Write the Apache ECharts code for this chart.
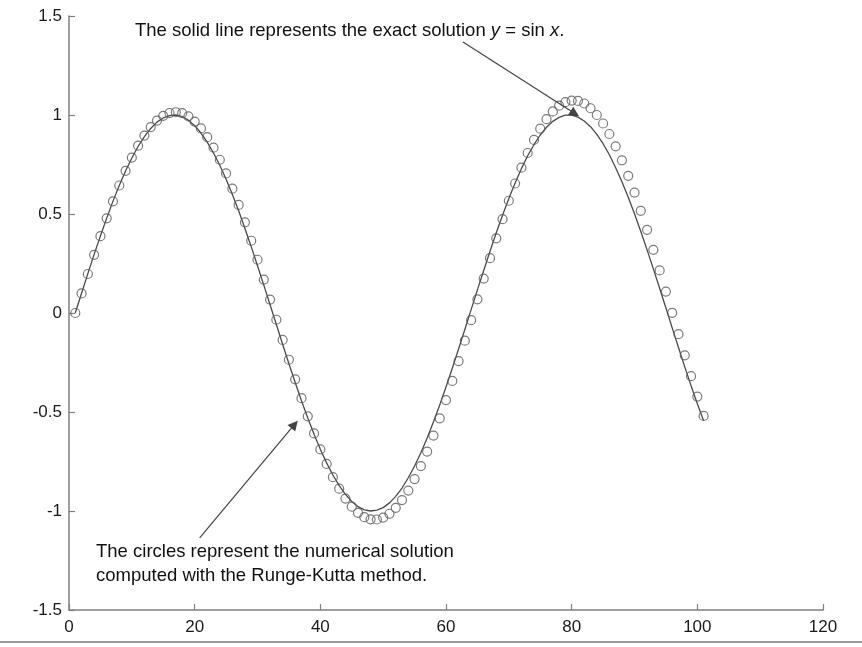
<!DOCTYPE html>
<html>
<head>
<meta charset="utf-8">
<script src="https://cdn.jsdelivr.net/npm/echarts@6/dist/echarts.min.js"></script>
<style>
html,body{margin:0;padding:0;background:#fff;}
#chart{width:862px;height:647px;}
</style>
</head>
<body>
<div id="chart"></div>
<script>
// Exact solution y = sin x, sampled at steps 1..101
const exactY = [
  0, 0.100, 0.199, 0.296, 0.389, 0.479, 0.565, 0.644, 0.717, 0.783,
  0.841, 0.891, 0.932, 0.964, 0.985, 0.997, 1.000, 0.992, 0.974, 0.946,
  0.909, 0.863, 0.808, 0.746, 0.676, 0.598, 0.516, 0.427, 0.335, 0.239,
  0.141, 0.042, -0.058, -0.158, -0.256, -0.351, -0.443, -0.530, -0.612, -0.688,
  -0.757, -0.818, -0.872, -0.916, -0.952, -0.978, -0.994, -1.000, -0.996, -0.983,
  -0.959, -0.926, -0.884, -0.832, -0.773, -0.706, -0.631, -0.551, -0.465, -0.374,
  -0.279, -0.182, -0.083, 0.017, 0.117, 0.215, 0.312, 0.405, 0.494, 0.578,
  0.657, 0.729, 0.794, 0.850, 0.899, 0.938, 0.968, 0.988, 0.999, 0.999,
  0.989, 0.970, 0.941, 0.902, 0.855, 0.799, 0.734, 0.663, 0.585, 0.501,
  0.412, 0.319, 0.223, 0.125, 0.025, -0.075, -0.174, -0.272, -0.367, -0.458,
  -0.544
];
// Numerical (Runge-Kutta) solution, circles
const rkY = [
  0, 0.099, 0.197, 0.294, 0.388, 0.478, 0.564, 0.644, 0.718, 0.785,
  0.845, 0.896, 0.939, 0.972, 0.996, 1.010, 1.014, 1.009, 0.993, 0.967,
  0.932, 0.888, 0.835, 0.774, 0.705, 0.628, 0.546, 0.458, 0.365, 0.269,
  0.169, 0.068, -0.034, -0.136, -0.236, -0.335, -0.430, -0.522, -0.608, -0.689,
  -0.762, -0.829, -0.887, -0.937, -0.978, -1.009, -1.031, -1.042, -1.043, -1.033,
  -1.014, -0.984, -0.945, -0.897, -0.839, -0.773, -0.700, -0.619, -0.532, -0.440,
  -0.343, -0.243, -0.140, -0.036, 0.069, 0.174, 0.277, 0.377, 0.474, 0.567,
  0.654, 0.734, 0.808, 0.874, 0.931, 0.979, 1.018, 1.047, 1.065, 1.073,
  1.071, 1.058, 1.034, 1.000, 0.957, 0.904, 0.842, 0.771, 0.693, 0.608,
  0.516, 0.420, 0.319, 0.215, 0.108, 0.001, -0.107, -0.214, -0.319, -0.422,
  -0.520
];
const xTicks = [0, 20, 40, 60, 80, 100, 120];
const yTicks = [-1.5, -1, -0.5, 0, 0.5, 1, 1.5];
// Annotation arrows: [from, to] in data coordinates
const arrowExact = [[62.7, 1.369], [80.5, 1.007]];
const arrowRK = [[20.8, -1.136], [35.9, -0.563]];
const noteExact = ['The solid line represents the exact solution ', 'y', ' = sin ', 'x', '.'];
const noteRK = ['The circles represent the numerical solution', 'computed with the Runge-Kutta method.'];

const FONT = '"Liberation Sans", Arial, Helvetica, sans-serif';
const chart = echarts.init(document.getElementById('chart'), null, {renderer: 'canvas'});

const exactData = exactY.map((v, i) => [i + 1, v]);
const rkData = rkY.map((v, i) => [i + 1, v]);

chart.setOption({
  animation: false,
  backgroundColor: '#fff',
  grid: {left: 69, right: 39, top: 16, bottom: 37, containLabel: false, outerBoundsMode: 'none'},
  xAxis: {
    type: 'value', min: xTicks[0], max: xTicks[xTicks.length - 1], interval: 20,
    axisLine: {show: true, onZero: false, lineStyle: {color: '#808080', width: 1.5}},
    axisTick: {show: true, inside: true, length: 6, lineStyle: {color: '#808080', width: 1.2}},
    axisLabel: {margin: 9, color: '#1a1a1a', fontSize: 17, fontFamily: FONT},
    splitLine: {show: false}
  },
  yAxis: {
    type: 'value', min: yTicks[0], max: yTicks[yTicks.length - 1], interval: 0.5,
    axisLine: {show: true, onZero: false, lineStyle: {color: '#808080', width: 1.5}},
    axisTick: {show: true, inside: true, length: 6, lineStyle: {color: '#808080', width: 1.2}},
    axisLabel: {margin: 7, color: '#1a1a1a', fontSize: 17, fontFamily: FONT},
    splitLine: {show: false}
  },
  series: [
    {
      name: 'exact', type: 'line', data: exactData, showSymbol: false, symbol: 'none',
      lineStyle: {color: '#4a4a4a', width: 1.3}, z: 2,
      markLine: {
        silent: true, symbol: ['none', 'triangle'], symbolSize: 10,
        label: {show: false}, emphasis: {disabled: true},
        lineStyle: {color: '#444', width: 1.2, type: 'solid'},
        data: [
          [{coord: arrowExact[0]}, {coord: arrowExact[1]}],
          [{coord: arrowRK[0]}, {coord: arrowRK[1]}]
        ]
      }
    },
    {
      name: 'rk', type: 'scatter', data: rkData, symbol: 'circle', symbolSize: 9,
      itemStyle: {color: 'rgba(0,0,0,0)', borderColor: '#5a5a5a', borderWidth: 1.2}, z: 3
    }
  ],
  graphic: [
    {
      type: 'text', x: 135, y: 31, silent: true,
      style: {
        text: '{n|' + noteExact[0] + '}{i|' + noteExact[1] + '}{n|' + noteExact[2] + '}{i|' + noteExact[3] + '}{n|' + noteExact[4] + '}',
        verticalAlign: 'middle', align: 'left',
        rich: {
          n: {fontSize: 18.5, fontFamily: FONT, fill: '#111', color: '#111'},
          i: {fontSize: 18.5, fontFamily: FONT, fontStyle: 'italic', fill: '#111', color: '#111'}
        }
      }
    },
    {
      type: 'text', x: 96, y: 552, silent: true,
      style: {text: noteRK[0], font: '18.5px ' + FONT, fill: '#111', verticalAlign: 'middle', align: 'left'}
    },
    {
      type: 'text', x: 96, y: 576, silent: true,
      style: {text: noteRK[1], font: '18.5px ' + FONT, fill: '#111', verticalAlign: 'middle', align: 'left'}
    },
    {
      type: 'line', silent: true,
      shape: {x1: 0, y1: 642, x2: 862, y2: 642},
      style: {stroke: '#999', lineWidth: 2}
    }
  ]
});
</script>
</body>
</html>
